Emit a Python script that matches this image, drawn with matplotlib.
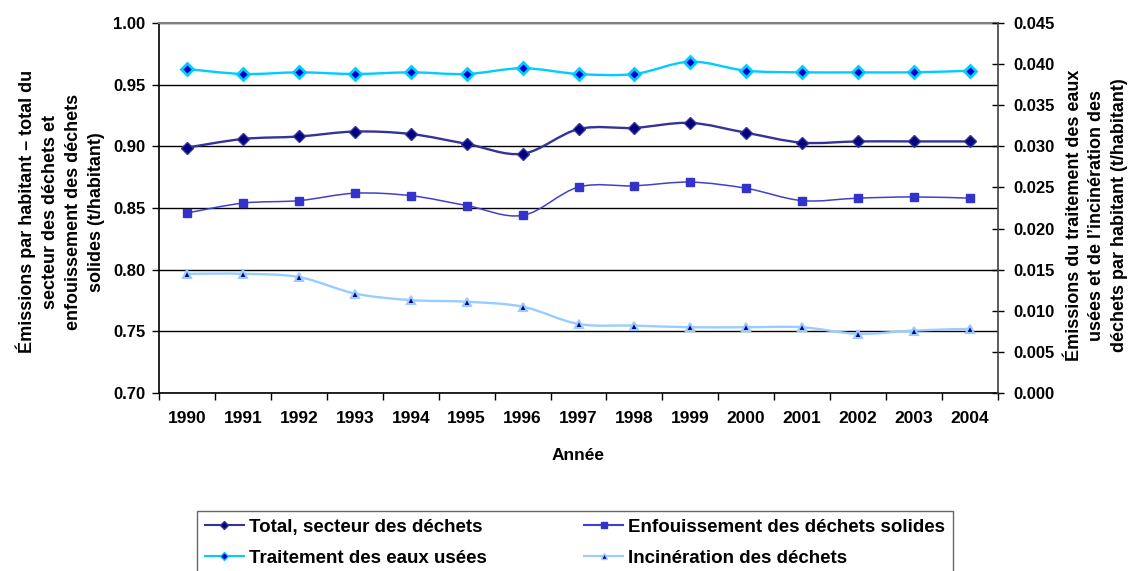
import matplotlib.pyplot as plt
from matplotlib.path import Path
from matplotlib.patches import PathPatch
from matplotlib.lines import Line2D
from matplotlib.ticker import FixedLocator, FormatStrFormatter

plt.rcParams['font.family'] = ['Liberation Sans', 'DejaVu Sans']
plt.rcParams['font.weight'] = 'bold'

# valeurs
annees = ["1990", "1991", "1992", "1993", "1994", "1995", "1996", "1997",
          "1998", "1999", "2000", "2001", "2002", "2003", "2004"]
total = [0.899, 0.906, 0.908, 0.912, 0.910, 0.902, 0.894, 0.914,
         0.915, 0.919, 0.911, 0.903, 0.904, 0.904, 0.904]
enfouissement = [0.846, 0.854, 0.856, 0.862, 0.860, 0.852, 0.844, 0.867,
                 0.868, 0.871, 0.866, 0.856, 0.858, 0.859, 0.858]
traitement = [0.0394, 0.0388, 0.0390, 0.0388, 0.0390, 0.0388, 0.0395, 0.0388,
              0.0388, 0.0403, 0.0392, 0.0390, 0.0390, 0.0390, 0.0392]
incineration = [0.0145, 0.0145, 0.0141, 0.0121, 0.0113, 0.0111, 0.0105, 0.0084,
                0.0082, 0.0080, 0.0080, 0.0080, 0.0072, 0.0076, 0.0078]

x = list(range(len(annees)))


def courbe_lissee(ax, xs, ys, color, lw):
    # lissage facon Excel : segments de Bezier entre les points
    verts = [(xs[0], ys[0])]
    codes = [Path.MOVETO]
    n = len(xs)
    for i in range(n - 1):
        x0, y0 = xs[max(i - 1, 0)], ys[max(i - 1, 0)]
        x1, y1 = xs[i], ys[i]
        x2, y2 = xs[i + 1], ys[i + 1]
        x3, y3 = xs[min(i + 2, n - 1)], ys[min(i + 2, n - 1)]
        verts += [(x1 + (x2 - x0) / 6, y1 + (y2 - y0) / 6),
                  (x2 - (x3 - x1) / 6, y2 - (y3 - y1) / 6),
                  (x2, y2)]
        codes += [Path.CURVE4] * 3
    ax.add_patch(PathPatch(Path(verts, codes), fill=False, edgecolor=color,
                           linewidth=lw, zorder=3, capstyle='round'))


fig = plt.figure(figsize=(11.31, 5.71), dpi=100)
ax = fig.add_axes([0.1409, 0.3117, 0.7412, 0.648])
ax2 = ax.twinx()

styles = {
    "total": dict(line="#333399", lw=1.7, marker="D", ms=6, mfc="#000080", mec="#333399", mew=1),
    "enf": dict(line="#4040CC", lw=1.1, marker="s", ms=6, mfc="#3333CC", mec="#3333CC", mew=1),
    "trait": dict(line="#00CCFF", lw=1.7, marker="D", ms=6, mfc="#0000CC", mec="#00CCFF", mew=2),
    "inc": dict(line="#99CCFF", lw=1.7, marker="^", ms=6, mfc="#000080", mec="#99CCFF", mew=1.5),
}

series = [(ax, total, "total"), (ax, enfouissement, "enf"),
          (ax2, traitement, "trait"), (ax2, incineration, "inc")]
for a, vals, key in series:
    s = styles[key]
    courbe_lissee(a, x, vals, s["line"], s["lw"])
    a.plot(x, vals, ls="none", marker=s["marker"], ms=s["ms"], mfc=s["mfc"],
           mec=s["mec"], mew=s["mew"], zorder=4)

# axe gauche
ax.set_xlim(-0.5, len(annees) - 0.5)
ax.set_ylim(0.70, 1.00)
ax.set_yticks([0.70, 0.75, 0.80, 0.85, 0.90, 0.95, 1.00])
ax.yaxis.set_major_formatter(FormatStrFormatter("%.2f"))
ax.yaxis.grid(True, color="black", linewidth=1)
ax.set_axisbelow(True)
ax.tick_params(axis="y", direction="out", length=5, width=1, pad=5, labelsize=12)
ax.set_xticks(x)
ax.set_xticklabels(annees)
ax.xaxis.set_minor_locator(FixedLocator([i - 0.5 for i in range(len(annees) + 1)]))
ax.tick_params(axis="x", which="major", length=0, pad=13, labelsize=12.5)
ax.tick_params(axis="x", which="minor", direction="out", length=5, width=1)
ax.spines["top"].set_color("#808080")
ax.spines["top"].set_linewidth(1.5)
ax.spines["right"].set_visible(False)
ax.spines["left"].set_linewidth(1.2)
ax.spines["bottom"].set_linewidth(1.2)
ax.set_xlabel("Année", fontsize=12.5, fontweight="bold", labelpad=16)
ax.set_ylabel("Émissions par habitant – total du\nsecteur des déchets et\n"
              "enfouissement des déchets\nsolides (t/habitant)",
              fontsize=13, fontweight="bold", linespacing=1.45)
ax.yaxis.label.set_verticalalignment("center")
ax.yaxis.set_label_coords(-0.118, 0.49)

# axe droit
ax2.set_ylim(0.0, 0.045)
ax2.set_yticks([i * 0.005 for i in range(10)])
ax2.yaxis.set_major_formatter(FormatStrFormatter("%.3f"))
ax2.tick_params(axis="y", direction="inout", length=8, width=1, pad=7, labelsize=12)
for side in ["top", "left", "bottom"]:
    ax2.spines[side].set_visible(False)
ax2.spines["right"].set_color("#404040")
ax2.spines["right"].set_linewidth(1.2)
ax2.set_ylabel("Émissions du traitement des eaux\nusées et de l’incinération des\n"
               "déchets par habitant (t/habitant)",
               fontsize=13, fontweight="bold", linespacing=1.45)
ax2.yaxis.label.set_verticalalignment("center")
ax2.yaxis.set_label_coords(1.1184, 0.48)

# légende
noms = ["Total, secteur des déchets", "Traitement des eaux usées",
        "Enfouissement des déchets solides", "Incinération des déchets"]
cles = ["total", "trait", "enf", "inc"]
poignees = []
for key in cles:
    s = styles[key]
    poignees.append(Line2D([], [], color=s["line"], lw=1.5, marker=s["marker"],
                           ms=4, mfc=s["mfc"], mec=s["mec"], mew=1))
leg = fig.legend(poignees, noms, ncol=2, loc="upper left",
                 bbox_to_anchor=(197 / 1131, 1 - 511 / 571),
                 borderaxespad=0, fancybox=False, edgecolor="#404040",
                 prop={"size": 13.5, "weight": "bold"}, handlelength=2.1,
                 handletextpad=0.25, labelspacing=0.75, borderpad=0.4,
                 columnspacing=5.2)
leg.get_frame().set_linewidth(1)

fig.savefig("out.png", dpi=100)
